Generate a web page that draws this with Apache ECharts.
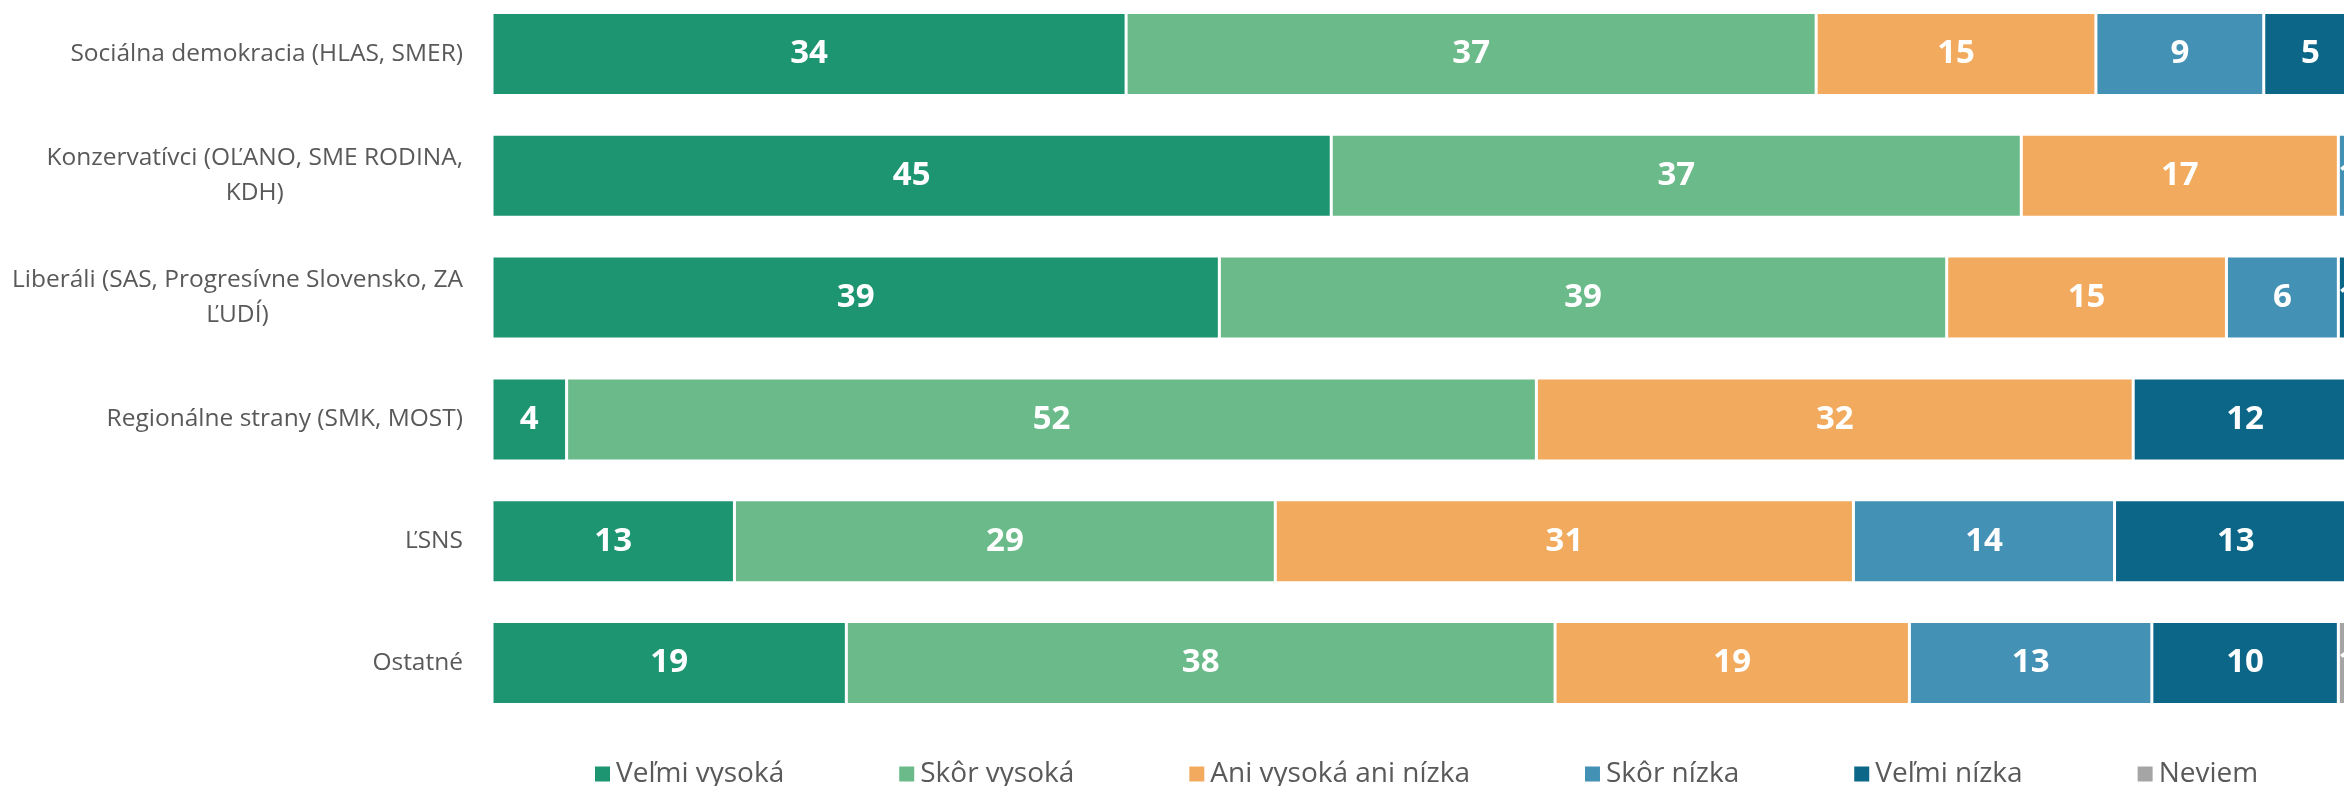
<!DOCTYPE html>
<html>
<head>
<meta charset="utf-8">
<script src="https://cdn.jsdelivr.net/npm/echarts@6/dist/echarts.min.js"></script>
<style>
  html, body { margin: 0; padding: 0; background: #fff; }
  #chart { width: 2344px; height: 786px; }
</style>
</head>
<body>
<div id="chart"></div>
<script>
// kategórie (zhora nadol)
const categories = [
  'Sociálna demokracia (HLAS, SMER)',
  'Konzervatívci (OĽANO, SME RODINA,\nKDH)',
  'Liberáli (SAS, Progresívne Slovensko, ZA\nĽUDÍ)',
  'Regionálne strany (SMK, MOST)',
  'ĽSNS',
  'Ostatné'
]

const velmiVysoka = [34, 45, 39, 4, 13, 19]
const skorVysoka = [37, 37, 39, 52, 29, 38]
const aniAni = [15, 17, 15, 32, 31, 19]
const skorNizka = [9, 1, 6, 0, 14, 13]
const velmiNizka = [5, 0, 1, 12, 13, 10]
const neviem = [0, 0, 0, 0, 0, 1]

const seriesDefs = [
  { name: 'Veľmi vysoká', data: velmiVysoka, color: '#1c9570' },
  { name: 'Skôr vysoká', data: skorVysoka, color: '#6bba8a' },
  { name: 'Ani vysoká ani nízka', data: aniAni, color: '#f2ab5e' },
  { name: 'Skôr nízka', data: skorNizka, color: '#4392b5' },
  { name: 'Veľmi nízka', data: velmiNizka, color: '#0b6688' },
  { name: 'Neviem', data: neviem, color: '#a5a5a5' }
]

const FONT = 'Open Sans'

const myChart = echarts.init(document.getElementById('chart'))

myChart.setOption({
  animation: false,
  textStyle: { fontFamily: FONT },
  // plocha grafu presahuje pravý okraj (ako v predlohe)
  grid: { left: 492, width: 1865, top: -7, height: 731, outerBoundsMode: 'none', containLabel: false },
  legend: {
    left: 588,
    top: 755,
    itemWidth: 17,
    itemHeight: 17,
    itemGap: 113,
    icon: 'rect',
    textStyle: { fontSize: 28, color: '#595959', fontFamily: FONT },
    data: seriesDefs.map(s => s.name)
  },
  xAxis: {
    type: 'value',
    min: 0,
    max: 100,
    show: false
  },
  yAxis: {
    type: 'category',
    inverse: true,
    data: categories,
    axisLine: { show: false },
    axisTick: { show: false },
    axisLabel: {
      margin: 29,
      formatter: v => v.split('\n').map(l => '{c|' + l + '}').join('\n'),
      rich: {
        c: { align: 'center', fontSize: 24.5, lineHeight: 35, color: '#595959', fontFamily: FONT }
      }
    }
  },
  series: seriesDefs.map(s => ({
    name: s.name,
    type: 'bar',
    stack: 'total',
    barWidth: 83,
    data: s.data,
    itemStyle: { color: s.color, borderColor: '#fff', borderWidth: 1.5 },
    label: {
      show: true,
      position: 'inside',
      color: '#fff',
      fontWeight: 'bold',
      fontSize: 33,
      fontFamily: FONT,
      formatter: p => (p.value ? p.value : '')
    }
  }))
})
</script>
</body>
</html>
